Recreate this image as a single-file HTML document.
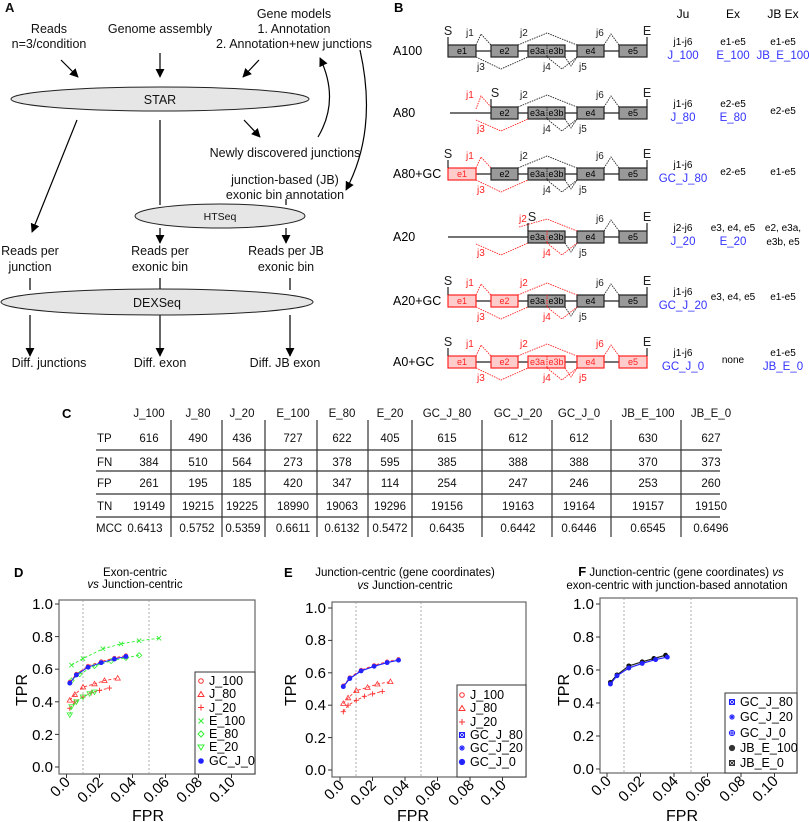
<!DOCTYPE html>
<html><head><meta charset="utf-8"><style>
html,body{margin:0;padding:0;background:#fff}
svg{display:block;font-family:"Liberation Sans",Arial,sans-serif}
</style></head><body>
<svg width="809" height="822" viewBox="0 0 809 822" xmlns="http://www.w3.org/2000/svg">
<defs>
<marker id="ah" viewBox="0 0 10 10" refX="9" refY="5" markerWidth="9" markerHeight="9" markerUnits="userSpaceOnUse" orient="auto"><path d="M0,0L10,5L0,10z" fill="#000"/></marker>
<marker id="mCirc" viewBox="-4 -4 8 8" markerWidth="6" markerHeight="6" markerUnits="userSpaceOnUse"><circle r="2.3" fill="none" stroke="#f33" stroke-width="1"/></marker>
<marker id="mTri" viewBox="-4 -4 8 8" markerWidth="7" markerHeight="7" markerUnits="userSpaceOnUse"><path d="M0,-3L3,2.2L-3,2.2z" fill="none" stroke="#f33" stroke-width="0.9"/></marker>
<marker id="mPlus" viewBox="-4 -4 8 8" markerWidth="7" markerHeight="7" markerUnits="userSpaceOnUse"><path d="M-3,0H3M0,-3V3" stroke="#f33" stroke-width="1"/></marker>
<marker id="mX" viewBox="-4 -4 8 8" markerWidth="7" markerHeight="7" markerUnits="userSpaceOnUse"><path d="M-2.5,-2.5L2.5,2.5M-2.5,2.5L2.5,-2.5" stroke="#3e3" stroke-width="1"/></marker>
<marker id="mDia" viewBox="-4 -4 8 8" markerWidth="7" markerHeight="7" markerUnits="userSpaceOnUse"><path d="M0,-3L3,0L0,3L-3,0z" fill="none" stroke="#3e3" stroke-width="0.9"/></marker>
<marker id="mDn" viewBox="-4 -4 8 8" markerWidth="7" markerHeight="7" markerUnits="userSpaceOnUse"><path d="M0,3L3,-2.2L-3,-2.2z" fill="none" stroke="#3e3" stroke-width="0.9"/></marker>
<marker id="mBlue" viewBox="-4 -4 8 8" markerWidth="7" markerHeight="7" markerUnits="userSpaceOnUse"><circle r="2.8" fill="#22f"/></marker>
<marker id="mBlk" viewBox="-4 -4 8 8" markerWidth="7" markerHeight="7" markerUnits="userSpaceOnUse"><circle r="2.8" fill="#111"/></marker>
</defs>

<!-- ============ PANEL A ============ -->
<g font-size="12.5" text-anchor="middle" fill="#111">
<text x="5" y="12" font-weight="bold" font-size="13" text-anchor="start">A</text>
<text x="49" y="33">Reads</text><text x="49" y="48">n=3/condition</text>
<text x="160" y="33">Genome assembly</text>
<text x="294" y="18">Gene models</text><text x="294" y="33">1. Annotation</text><text x="294" y="48">2. Annotation+new junctions</text>
</g>
<g stroke="#000" stroke-width="1.2" fill="none">
<line x1="61" y1="60" x2="78" y2="77" marker-end="url(#ah)"/>
<line x1="160" y1="53" x2="160" y2="77" marker-end="url(#ah)"/>
<line x1="259" y1="60" x2="243" y2="77" marker-end="url(#ah)"/>
<line x1="77" y1="120" x2="32" y2="232" marker-end="url(#ah)"/>
<line x1="160" y1="120" x2="160" y2="205"/>
<line x1="244" y1="120" x2="260" y2="137" marker-end="url(#ah)"/>
<path d="M318,137 Q340,100 320,58" marker-end="url(#ah)"/>
<path d="M360,50 Q378,130 346,190" marker-end="url(#ah)"/>
<line x1="286" y1="199" x2="286" y2="205"/>
<line x1="160" y1="228" x2="160" y2="243" marker-end="url(#ah)"/>
<line x1="286" y1="228" x2="286" y2="243" marker-end="url(#ah)"/>
<line x1="30" y1="278" x2="30" y2="290"/><line x1="160" y1="278" x2="160" y2="290"/><line x1="290" y1="278" x2="290" y2="290"/>
<line x1="30" y1="315" x2="30" y2="356" marker-end="url(#ah)"/>
<line x1="160" y1="315" x2="160" y2="356" marker-end="url(#ah)"/>
<line x1="290" y1="315" x2="290" y2="356" marker-end="url(#ah)"/>
</g>
<g stroke="#222" stroke-width="1" fill="#e6e6e6">
<ellipse cx="160" cy="99" rx="149" ry="12"/>
<ellipse cx="220" cy="216" rx="85" ry="12"/>
<ellipse cx="157" cy="302" rx="156" ry="13"/>
</g>
<g font-size="12.5" text-anchor="middle" fill="#111">
<text x="160" y="104">STAR</text>
<text x="220" y="220" font-size="10.5">HTSeq</text>
<text x="157" y="307">DEXSeq</text>
<text x="285" y="157">Newly discovered junctions</text>
<text x="285" y="184">junction-based (JB)</text><text x="285" y="199">exonic bin annotation</text>
<text x="30" y="255">Reads per</text><text x="30" y="271">junction</text>
<text x="160" y="255">Reads per</text><text x="160" y="271">exonic bin</text>
<text x="286" y="255">Reads per JB</text><text x="286" y="271">exonic bin</text>
<text x="49" y="367">Diff. junctions</text><text x="160" y="367">Diff. exon</text><text x="285" y="367">Diff. JB exon</text>
</g>

<!-- ============ PANEL B ============ -->
<text x="394" y="12" font-weight="bold" font-size="13">B</text>
<g font-size="12" text-anchor="middle"><text x="683" y="18">Ju</text><text x="733" y="18">Ex</text><text x="783" y="18">JB Ex</text></g>

<g id="genes" font-size="10">
<g transform="translate(0,51)">
<text x="393" y="4" font-size="12.5">A100</text>
<line x1="448" y1="0" x2="647" y2="0" stroke="#222" stroke-width="1.3"/>
<g stroke="#222" fill="#999" stroke-width="1.2"><rect x="448" y="-6" width="28" height="12"/><rect x="491" y="-6" width="27" height="12"/><rect x="528" y="-6" width="37" height="12"/><rect x="577" y="-6" width="27" height="12"/><rect x="619" y="-6" width="28" height="12"/></g>
<line x1="547" y1="-6" x2="547" y2="6" stroke="#222" stroke-dasharray="1.5,1"/>
<g stroke="#222" fill="none" stroke-width="0.9" stroke-dasharray="1.5,1">
<path d="M476,-6L481,-17L491,-6"/><path d="M518,-6L547,-18L577,-6"/><path d="M604,-6L611,-17L619,-6"/>
<path d="M476,6L501,18L528,6"/><path d="M547,6L562,18L577,6"/><path d="M565,6L571,15L577,6"/></g>
<g stroke="#222" stroke-width="1.2"><line x1="448" y1="-14" x2="448" y2="-6"/><line x1="647" y1="-14" x2="647" y2="-6"/></g>
<g fill="#222"><text x="448" y="-16" font-size="12.5" text-anchor="middle">S</text><text x="647" y="-16" font-size="12.5" text-anchor="middle">E</text>
<text x="466" y="-15">j1</text><text x="520" y="-15">j2</text><text x="596" y="-15">j6</text><text x="477" y="19">j3</text><text x="543" y="19">j4</text><text x="579" y="19">j5</text></g>
<g text-anchor="middle" font-size="9"><text x="462" y="3">e1</text><text x="504.5" y="3">e2</text><text x="537.5" y="3">e3a</text><text x="556" y="3">e3b</text><text x="590.5" y="3">e4</text><text x="633" y="3">e5</text></g>
<g text-anchor="middle" font-size="10"><text x="683" y="-6">j1-j6</text><text x="733" y="-6">e1-e5</text><text x="783" y="-6">e1-e5</text></g>
<g text-anchor="middle" font-size="11.5" fill="#33f"><text x="683" y="8">J_100</text><text x="733" y="8">E_100</text><text x="783" y="8">JB_E_100</text></g>
</g>
<g transform="translate(0,113)">
<text x="393" y="4" font-size="12.5">A80</text>
<line x1="450" y1="0" x2="647" y2="0" stroke="#222" stroke-width="1.3"/>
<g stroke="#222" fill="#999" stroke-width="1.2"><rect x="491" y="-6" width="27" height="12"/><rect x="528" y="-6" width="37" height="12"/><rect x="577" y="-6" width="27" height="12"/><rect x="619" y="-6" width="28" height="12"/></g>
<line x1="547" y1="-6" x2="547" y2="6" stroke="#222" stroke-dasharray="1.5,1"/>
<g stroke="#222" fill="none" stroke-width="0.9" stroke-dasharray="1.5,1">
<path d="M518,-6L547,-18L577,-6"/><path d="M604,-6L611,-17L619,-6"/><path d="M547,6L562,18L577,6"/><path d="M565,6L571,15L577,6"/></g>
<g stroke="#f22" fill="none" stroke-width="0.9" stroke-dasharray="1.5,1"><path d="M476,-4L481,-17L491,-6"/><path d="M476,7L501,18L528,6"/></g>
<g stroke="#222" stroke-width="1.2"><line x1="491" y1="-14" x2="491" y2="-6"/><line x1="647" y1="-14" x2="647" y2="-6"/></g>
<g fill="#222"><text x="495" y="-16" font-size="12.5" text-anchor="middle">S</text><text x="647" y="-16" font-size="12.5" text-anchor="middle">E</text>
<text x="520" y="-15">j2</text><text x="596" y="-15">j6</text><text x="543" y="19">j4</text><text x="579" y="19">j5</text></g>
<g fill="#f22"><text x="466" y="-15">j1</text><text x="477" y="19">j3</text></g>
<g text-anchor="middle" font-size="9"><text x="504.5" y="3">e2</text><text x="537.5" y="3">e3a</text><text x="556" y="3">e3b</text><text x="590.5" y="3">e4</text><text x="633" y="3">e5</text></g>
<g text-anchor="middle" font-size="10"><text x="683" y="-6">j1-j6</text><text x="733" y="-6">e2-e5</text><text x="783" y="1">e2-e5</text></g>
<g text-anchor="middle" font-size="11.5" fill="#33f"><text x="683" y="8">J_80</text><text x="733" y="8">E_80</text></g>
</g>
<g transform="translate(0,174)">
<text x="393" y="4" font-size="12.5">A80+GC</text>
<line x1="448" y1="0" x2="647" y2="0" stroke="#222" stroke-width="1.3"/>
<rect x="448" y="-6" width="28" height="12" stroke="#f22" fill="#fcc" stroke-width="1.2"/>
<g stroke="#222" fill="#999" stroke-width="1.2"><rect x="491" y="-6" width="27" height="12"/><rect x="528" y="-6" width="37" height="12"/><rect x="577" y="-6" width="27" height="12"/><rect x="619" y="-6" width="28" height="12"/></g>
<line x1="547" y1="-6" x2="547" y2="6" stroke="#222" stroke-dasharray="1.5,1"/>
<g stroke="#222" fill="none" stroke-width="0.9" stroke-dasharray="1.5,1">
<path d="M518,-6L547,-18L577,-6"/><path d="M604,-6L611,-17L619,-6"/><path d="M547,6L562,18L577,6"/><path d="M565,6L571,15L577,6"/></g>
<g stroke="#f22" fill="none" stroke-width="0.9" stroke-dasharray="1.5,1"><path d="M476,-6L481,-17L491,-6"/><path d="M476,6L501,18L528,6"/></g>
<g stroke="#222" stroke-width="1.2"><line x1="448" y1="-14" x2="448" y2="-6"/><line x1="647" y1="-14" x2="647" y2="-6"/></g>
<g fill="#222"><text x="448" y="-16" font-size="12.5" text-anchor="middle">S</text><text x="647" y="-16" font-size="12.5" text-anchor="middle">E</text>
<text x="520" y="-15">j2</text><text x="596" y="-15">j6</text><text x="543" y="19">j4</text><text x="579" y="19">j5</text></g>
<g fill="#f22"><text x="466" y="-15">j1</text><text x="477" y="19">j3</text><text x="462" y="3" font-size="9" text-anchor="middle">e1</text></g>
<g text-anchor="middle" font-size="9"><text x="504.5" y="3">e2</text><text x="537.5" y="3">e3a</text><text x="556" y="3">e3b</text><text x="590.5" y="3">e4</text><text x="633" y="3">e5</text></g>
<g text-anchor="middle" font-size="10"><text x="683" y="-6">j1-j6</text><text x="733" y="1">e2-e5</text><text x="783" y="1">e1-e5</text></g>
<g text-anchor="middle" font-size="11.5" fill="#33f"><text x="683" y="8">GC_J_80</text></g>
</g>
<g transform="translate(0,237)">
<text x="393" y="4" font-size="12.5">A20</text>
<line x1="448" y1="0" x2="647" y2="0" stroke="#222" stroke-width="1.3"/>
<g stroke="#222" fill="#999" stroke-width="1.2"><rect x="528" y="-6" width="37" height="12"/><rect x="577" y="-6" width="27" height="12"/><rect x="619" y="-6" width="28" height="12"/></g>
<line x1="547" y1="-6" x2="547" y2="6" stroke="#f22" stroke-dasharray="1.5,1"/>
<g stroke="#222" fill="none" stroke-width="0.9" stroke-dasharray="1.5,1"><path d="M604,-6L611,-17L619,-6"/><path d="M565,6L571,15L577,6"/></g>
<g stroke="#f22" fill="none" stroke-width="0.9" stroke-dasharray="1.5,1"><path d="M519,-10L547,-18L577,-6"/><path d="M476,7L501,18L528,6"/><path d="M547,6L562,18L577,6"/></g>
<g stroke="#222" stroke-width="1.2"><line x1="528" y1="-14" x2="528" y2="-6"/><line x1="647" y1="-14" x2="647" y2="-6"/></g>
<g fill="#222"><text x="532" y="-16" font-size="12.5" text-anchor="middle">S</text><text x="647" y="-16" font-size="12.5" text-anchor="middle">E</text>
<text x="596" y="-15">j6</text><text x="579" y="19">j5</text></g>
<g fill="#f22"><text x="519" y="-15">j2</text><text x="477" y="19">j3</text><text x="543" y="19">j4</text></g>
<g text-anchor="middle" font-size="9"><text x="537.5" y="3">e3a</text><text x="556" y="3">e3b</text><text x="590.5" y="3">e4</text><text x="633" y="3">e5</text></g>
<g text-anchor="middle" font-size="10"><text x="683" y="-6">j2-j6</text><text x="733" y="-6">e3, e4, e5</text><text x="783" y="-6">e2, e3a,</text><text x="783" y="8">e3b, e5</text></g>
<g text-anchor="middle" font-size="11.5" fill="#33f"><text x="683" y="8">J_20</text><text x="733" y="8">E_20</text></g>
</g>
<g transform="translate(0,301)">
<text x="393" y="4" font-size="12.5">A20+GC</text>
<line x1="448" y1="0" x2="647" y2="0" stroke="#222" stroke-width="1.3"/>
<g stroke="#f22" fill="#fcc" stroke-width="1.2"><rect x="448" y="-6" width="28" height="12"/><rect x="491" y="-6" width="27" height="12"/></g>
<g stroke="#222" fill="#999" stroke-width="1.2"><rect x="528" y="-6" width="37" height="12"/><rect x="577" y="-6" width="27" height="12"/><rect x="619" y="-6" width="28" height="12"/></g>
<line x1="547" y1="-6" x2="547" y2="6" stroke="#f22" stroke-dasharray="1.5,1"/>
<g stroke="#222" fill="none" stroke-width="0.9" stroke-dasharray="1.5,1"><path d="M604,-6L611,-17L619,-6"/><path d="M565,6L571,15L577,6"/></g>
<g stroke="#f22" fill="none" stroke-width="0.9" stroke-dasharray="1.5,1"><path d="M476,-6L481,-17L491,-6"/><path d="M518,-6L547,-18L577,-6"/><path d="M476,6L501,18L528,6"/><path d="M547,6L562,18L577,6"/></g>
<g stroke="#222" stroke-width="1.2"><line x1="448" y1="-14" x2="448" y2="-6"/><line x1="647" y1="-14" x2="647" y2="-6"/></g>
<g fill="#222"><text x="448" y="-16" font-size="12.5" text-anchor="middle">S</text><text x="647" y="-16" font-size="12.5" text-anchor="middle">E</text>
<text x="596" y="-15">j6</text><text x="579" y="19">j5</text></g>
<g fill="#f22"><text x="466" y="-15">j1</text><text x="520" y="-15">j2</text><text x="477" y="19">j3</text><text x="543" y="19">j4</text>
<text x="462" y="3" font-size="9" text-anchor="middle">e1</text><text x="504.5" y="3" font-size="9" text-anchor="middle">e2</text></g>
<g text-anchor="middle" font-size="9"><text x="537.5" y="3">e3a</text><text x="556" y="3">e3b</text><text x="590.5" y="3">e4</text><text x="633" y="3">e5</text></g>
<g text-anchor="middle" font-size="10"><text x="683" y="-6">j1-j6</text><text x="733" y="-1">e3, e4, e5</text><text x="783" y="-1">e1-e5</text></g>
<g text-anchor="middle" font-size="11.5" fill="#33f"><text x="683" y="8">GC_J_20</text></g>
</g>
<g transform="translate(0,362)">
<text x="393" y="4" font-size="12.5">A0+GC</text>
<line x1="448" y1="0" x2="647" y2="0" stroke="#222" stroke-width="1.3"/>
<g stroke="#f22" fill="#fcc" stroke-width="1.2"><rect x="448" y="-6" width="28" height="12"/><rect x="491" y="-6" width="27" height="12"/><rect x="528" y="-6" width="37" height="12"/><rect x="577" y="-6" width="27" height="12"/><rect x="619" y="-6" width="28" height="12"/></g>
<line x1="547" y1="-6" x2="547" y2="6" stroke="#f22" stroke-dasharray="1.5,1"/>
<g stroke="#f22" fill="none" stroke-width="0.9" stroke-dasharray="1.5,1">
<path d="M476,-6L481,-17L491,-6"/><path d="M518,-6L547,-18L577,-6"/><path d="M604,-6L611,-17L619,-6"/>
<path d="M476,6L501,18L528,6"/><path d="M547,6L562,18L577,6"/><path d="M565,6L571,15L577,6"/></g>
<g stroke="#222" stroke-width="1.2"><line x1="448" y1="-14" x2="448" y2="-6"/><line x1="647" y1="-14" x2="647" y2="-6"/></g>
<g fill="#222"><text x="448" y="-16" font-size="12.5" text-anchor="middle">S</text><text x="647" y="-16" font-size="12.5" text-anchor="middle">E</text></g>
<g fill="#f22"><text x="466" y="-15">j1</text><text x="520" y="-15">j2</text><text x="596" y="-15">j6</text><text x="477" y="19">j3</text><text x="543" y="19">j4</text><text x="579" y="19">j5</text>
<g text-anchor="middle" font-size="9"><text x="462" y="3">e1</text><text x="504.5" y="3">e2</text><text x="537.5" y="3">e3a</text><text x="556" y="3">e3b</text><text x="590.5" y="3">e4</text><text x="633" y="3">e5</text></g></g>
<g text-anchor="middle" font-size="10"><text x="683" y="-6">j1-j6</text><text x="733" y="1">none</text><text x="783" y="-6">e1-e5</text></g>
<g text-anchor="middle" font-size="11.5" fill="#33f"><text x="683" y="8">GC_J_0</text><text x="783" y="8">JB_E_0</text></g>
</g>
</g>

<!-- ============ PANEL C ============ -->
<text x="62" y="418" font-weight="bold" font-size="13">C</text>
<g font-size="11.5" text-anchor="middle" fill="#111">
<text x="149" y="417">J_100</text><text x="198" y="417">J_80</text><text x="242" y="417">J_20</text><text x="293" y="417">E_100</text><text x="342" y="417">E_80</text><text x="390" y="417">E_20</text><text x="447" y="417">GC_J_80</text><text x="518" y="417">GC_J_20</text><text x="579" y="417">GC_J_0</text><text x="648" y="417">JB_E_100</text><text x="711" y="417">JB_E_0</text>
<g text-anchor="start"><text x="97" y="442">TP</text><text x="97" y="466">FN</text><text x="97" y="487">FP</text><text x="97" y="510">TN</text><text x="96" y="532">MCC</text></g>
<g><text x="149" y="442">616</text><text x="198" y="442">490</text><text x="242" y="442">436</text><text x="293" y="442">727</text><text x="342" y="442">622</text><text x="390" y="442">405</text><text x="447" y="442">615</text><text x="518" y="442">612</text><text x="579" y="442">612</text><text x="648" y="442">630</text><text x="711" y="442">627</text></g>
<g><text x="149" y="466">384</text><text x="198" y="466">510</text><text x="242" y="466">564</text><text x="293" y="466">273</text><text x="342" y="466">378</text><text x="390" y="466">595</text><text x="447" y="466">385</text><text x="518" y="466">388</text><text x="579" y="466">388</text><text x="648" y="466">370</text><text x="711" y="466">373</text></g>
<g><text x="149" y="487">261</text><text x="198" y="487">195</text><text x="242" y="487">185</text><text x="293" y="487">420</text><text x="342" y="487">347</text><text x="390" y="487">114</text><text x="447" y="487">254</text><text x="518" y="487">247</text><text x="579" y="487">246</text><text x="648" y="487">253</text><text x="711" y="487">260</text></g>
<g><text x="149" y="510">19149</text><text x="198" y="510">19215</text><text x="242" y="510">19225</text><text x="293" y="510">18990</text><text x="342" y="510">19063</text><text x="390" y="510">19296</text><text x="447" y="510">19156</text><text x="518" y="510">19163</text><text x="579" y="510">19164</text><text x="648" y="510">19157</text><text x="711" y="510">19150</text></g>
<g><text x="145" y="532">0.6413</text><text x="197" y="532">0.5752</text><text x="243" y="532">0.5359</text><text x="293" y="532">0.6611</text><text x="342" y="532">0.6132</text><text x="390" y="532">0.5472</text><text x="447" y="532">0.6435</text><text x="518" y="532">0.6442</text><text x="579" y="532">0.6446</text><text x="648" y="532">0.6545</text><text x="711" y="532">0.6496</text></g>
</g>
<g stroke="#333" stroke-width="1.2">
<line x1="96" y1="450" x2="722" y2="450"/><line x1="96" y1="471" x2="720" y2="471"/><line x1="96" y1="494" x2="720" y2="494"/><line x1="96" y1="517" x2="720" y2="517"/>
<line x1="171" y1="420" x2="171" y2="537"/><line x1="222" y1="420" x2="222" y2="537"/><line x1="265" y1="420" x2="265" y2="537"/><line x1="317" y1="420" x2="317" y2="537"/><line x1="368" y1="420" x2="368" y2="537"/><line x1="412" y1="420" x2="412" y2="537"/><line x1="482" y1="420" x2="482" y2="537"/><line x1="552" y1="420" x2="552" y2="537"/><line x1="611" y1="420" x2="611" y2="537"/><line x1="681" y1="420" x2="681" y2="537"/>
</g>

<!-- ============ PANEL D ============ -->
<text x="14" y="577" font-weight="bold" font-size="13">D</text>
<g font-size="11.5" text-anchor="middle"><text x="135" y="576">Exon-centric</text><text x="135" y="588"><tspan font-style="italic">vs</tspan> Junction-centric</text></g>
<rect x="59" y="600" width="196" height="174" fill="none" stroke="#666" stroke-width="1.2"/>
<g stroke="#999" stroke-width="0.8" stroke-dasharray="2,2"><line x1="83" y1="600" x2="83" y2="774"/><line x1="149" y1="600" x2="149" y2="774"/></g>
<g stroke="#333" stroke-width="1"><line x1="55" y1="604" x2="59" y2="604"/><line x1="55" y1="636.6" x2="59" y2="636.6"/><line x1="55" y1="669.2" x2="59" y2="669.2"/><line x1="55" y1="701.8" x2="59" y2="701.8"/><line x1="55" y1="734.4" x2="59" y2="734.4"/><line x1="55" y1="767" x2="59" y2="767"/>
<line x1="66.5" y1="774" x2="66.5" y2="778"/><line x1="99.5" y1="774" x2="99.5" y2="778"/><line x1="132.5" y1="774" x2="132.5" y2="778"/><line x1="165.5" y1="774" x2="165.5" y2="778"/><line x1="198.5" y1="774" x2="198.5" y2="778"/><line x1="231.5" y1="774" x2="231.5" y2="778"/></g>
<g font-size="15" text-anchor="end"><text x="53" y="609">1.0</text><text x="53" y="642">0.8</text><text x="53" y="674">0.6</text><text x="53" y="707">0.4</text><text x="53" y="740">0.2</text><text x="53" y="772">0.0</text>
<text transform="translate(71,783) rotate(-45)">0.0</text><text transform="translate(104,783) rotate(-45)">0.02</text><text transform="translate(137,783) rotate(-45)">0.04</text><text transform="translate(170,783) rotate(-45)">0.06</text><text transform="translate(203,783) rotate(-45)">0.08</text><text transform="translate(236,783) rotate(-45)">0.10</text></g>
<text transform="translate(27,690) rotate(-90)" font-size="16" text-anchor="middle">TPR</text>
<text x="148" y="821" font-size="16" text-anchor="middle">FPR</text>
<g fill="none" stroke-width="0.9" stroke-dasharray="3,2">
<polyline stroke="#3e3" points="71.5,665.1 83,658.6 102.8,648.8 121,643.9 139.1,640.7 158.9,638.2" marker-start="url(#mX)" marker-mid="url(#mX)" marker-end="url(#mX)"/>
<polyline stroke="#3e3" points="71.5,680.6 79.7,674.1 94.5,665.9 111.1,661 125.9,657.8 139.1,655.3" marker-start="url(#mDia)" marker-mid="url(#mDia)" marker-end="url(#mDia)"/>
<polyline stroke="#f33" points="69.8,700.2 74.8,694.5 83,687.1 94.5,683.9 104.5,680.6 117.7,678.2" marker-start="url(#mTri)" marker-mid="url(#mTri)" marker-end="url(#mTri)"/>
<polyline stroke="#f33" points="69.8,708.3 74.8,701.8 83,696.9 91.3,692.8 99.5,690.4 109.4,688" marker-start="url(#mPlus)" marker-mid="url(#mPlus)" marker-end="url(#mPlus)"/>
<polyline stroke="#3e3" points="69.8,714.8 71.5,706.7 76.4,701.8 83,696.9 89.6,693.7 94.5,692" marker-start="url(#mDn)" marker-mid="url(#mDn)" marker-end="url(#mDn)"/>
<polyline stroke="#f33" points="69.8,682 76.4,674 88,666 101.2,661.5 114.4,658 125.9,655.5" marker-start="url(#mCirc)" marker-mid="url(#mCirc)" marker-end="url(#mCirc)"/>
</g>
<polyline fill="none" stroke="#22f" stroke-width="1" points="69.8,683.1 76.4,674.9 88,667.2 101.2,662.7 114.4,659 125.9,656.5" marker-start="url(#mBlue)" marker-mid="url(#mBlue)" marker-end="url(#mBlue)"/>
<rect x="195" y="672" width="60" height="102" fill="#fff" stroke="#333" stroke-width="1"/>
<g font-size="12.5"><text x="209" y="685">J_100</text><text x="209" y="698">J_80</text><text x="209" y="712">J_20</text><text x="209" y="725">E_100</text><text x="209" y="738">E_80</text><text x="209" y="751">E_20</text><text x="209" y="765">GC_J_0</text></g>
<g fill="none" stroke-width="1"><circle cx="201" cy="681" r="2.3" stroke="#f33"/><path d="M201,691.5L204,696.5L198,696.5z" stroke="#f33"/><path d="M198,707.5H204M201,704.5V710.5" stroke="#f33"/><path d="M198.5,718.5L203.5,723.5M198.5,723.5L203.5,718.5" stroke="#3e3"/><path d="M201,731L204,734L201,737L198,734z" stroke="#3e3"/><path d="M201,750L204,745L198,745z" stroke="#3e3"/><circle cx="201" cy="761" r="2.8" fill="#22f" stroke="none"/></g>

<!-- ============ PANEL E ============ -->
<text x="284" y="577" font-weight="bold" font-size="13">E</text>
<g font-size="11.5" text-anchor="middle"><text x="405" y="576">Junction-centric (gene coordinates)</text><text x="405" y="589"><tspan font-style="italic">vs</tspan> Junction-centric</text></g>
<rect x="332" y="602" width="194" height="175" fill="none" stroke="#666" stroke-width="1.2"/>
<g stroke="#999" stroke-width="0.8" stroke-dasharray="2,2"><line x1="356" y1="602" x2="356" y2="777"/><line x1="421" y1="602" x2="421" y2="777"/></g>
<g stroke="#333" stroke-width="1"><line x1="328" y1="608" x2="332" y2="608"/><line x1="328" y1="640.4" x2="332" y2="640.4"/><line x1="328" y1="672.8" x2="332" y2="672.8"/><line x1="328" y1="705.2" x2="332" y2="705.2"/><line x1="328" y1="737.6" x2="332" y2="737.6"/><line x1="328" y1="770" x2="332" y2="770"/>
<line x1="340" y1="777" x2="340" y2="781"/><line x1="372.5" y1="777" x2="372.5" y2="781"/><line x1="405" y1="777" x2="405" y2="781"/><line x1="437.5" y1="777" x2="437.5" y2="781"/><line x1="470" y1="777" x2="470" y2="781"/><line x1="502.5" y1="777" x2="502.5" y2="781"/></g>
<g font-size="15" text-anchor="end"><text x="326" y="613">1.0</text><text x="326" y="645">0.8</text><text x="326" y="678">0.6</text><text x="326" y="710">0.4</text><text x="326" y="743">0.2</text><text x="326" y="775">0.0</text>
<text transform="translate(345,786) rotate(-45)">0.0</text><text transform="translate(377,786) rotate(-45)">0.02</text><text transform="translate(410,786) rotate(-45)">0.04</text><text transform="translate(442,786) rotate(-45)">0.06</text><text transform="translate(475,786) rotate(-45)">0.08</text><text transform="translate(507,786) rotate(-45)">0.10</text></g>
<text transform="translate(296,690) rotate(-90)" font-size="16" text-anchor="middle">TPR</text>
<text x="413" y="821" font-size="16" text-anchor="middle">FPR</text>
<g fill="none" stroke-width="0.9" stroke-dasharray="3,2">
<polyline stroke="#f33" points="343.3,703.6 348.1,697.9 356.3,690.6 367.6,687.4 377.4,684.1 390.4,681.7" marker-start="url(#mTri)" marker-mid="url(#mTri)" marker-end="url(#mTri)"/>
<polyline stroke="#f33" points="343.3,711.7 348.1,705.2 356.3,700.3 364.4,696.3 372.5,693.9 382.3,691.4" marker-start="url(#mPlus)" marker-mid="url(#mPlus)" marker-end="url(#mPlus)"/>
<polyline stroke="#f33" points="343.3,685.6 349.8,677.5 361.1,670 374.1,665.3 387.1,661.6 398.5,659.2" marker-start="url(#mCirc)" marker-mid="url(#mCirc)" marker-end="url(#mCirc)"/>
</g>
<polyline fill="none" stroke="#22f" stroke-width="1.2" points="343.3,686.6 349.8,678.5 361.1,670.9 374.1,666.3 387.1,662.6 398.5,660.2" marker-start="url(#mBlue)" marker-mid="url(#mBlue)" marker-end="url(#mBlue)"/>
<rect x="457" y="685" width="69" height="92" fill="#fff" stroke="#333" stroke-width="1"/>
<g font-size="12.5"><text x="470" y="699">J_100</text><text x="470" y="712">J_80</text><text x="470" y="726">J_20</text><text x="470" y="739">GC_J_80</text><text x="470" y="752">GC_J_20</text><text x="470" y="766">GC_J_0</text></g>
<g fill="none" stroke-width="1"><circle cx="462" cy="695" r="2.3" stroke="#f33"/><path d="M462,705.5L465,710.5L459,710.5z" stroke="#f33"/><path d="M459,722H465M462,719V725" stroke="#f33"/>
<rect x="459.5" y="732.5" width="5" height="5" stroke="#22f"/><path d="M459.5,732.5l5,5m0,-5l-5,5" stroke="#22f"/>
<path d="M459,748H465M462,745V751M460,746l4,4m0,-4l-4,4" stroke="#22f"/><circle cx="462" cy="762" r="2.6" stroke="#22f" fill="#22f"/></g>

<!-- ============ PANEL F ============ -->
<g font-size="11.5" text-anchor="middle"><text x="681" y="576"><tspan font-weight="bold" font-size="13">F</tspan> Junction-centric (gene coordinates) <tspan font-style="italic">vs</tspan></text><text x="677" y="589">exon-centric with junction-based annotation</text></g>
<rect x="600" y="598" width="197" height="175" fill="none" stroke="#666" stroke-width="1.2"/>
<g stroke="#999" stroke-width="0.8" stroke-dasharray="2,2"><line x1="624" y1="598" x2="624" y2="773"/><line x1="691" y1="598" x2="691" y2="773"/></g>
<g stroke="#333" stroke-width="1"><line x1="596" y1="604" x2="600" y2="604"/><line x1="596" y1="637" x2="600" y2="637"/><line x1="596" y1="670" x2="600" y2="670"/><line x1="596" y1="703" x2="600" y2="703"/><line x1="596" y1="736" x2="600" y2="736"/><line x1="596" y1="769" x2="600" y2="769"/>
<line x1="607" y1="773" x2="607" y2="777"/><line x1="640.5" y1="773" x2="640.5" y2="777"/><line x1="674" y1="773" x2="674" y2="777"/><line x1="707.5" y1="773" x2="707.5" y2="777"/><line x1="741" y1="773" x2="741" y2="777"/><line x1="774.5" y1="773" x2="774.5" y2="777"/></g>
<g font-size="15" text-anchor="end"><text x="594" y="609">1.0</text><text x="594" y="642">0.8</text><text x="594" y="675">0.6</text><text x="594" y="708">0.4</text><text x="594" y="741">0.2</text><text x="594" y="774">0.0</text>
<text transform="translate(612,782) rotate(-45)">0.0</text><text transform="translate(645,782) rotate(-45)">0.02</text><text transform="translate(679,782) rotate(-45)">0.04</text><text transform="translate(712,782) rotate(-45)">0.06</text><text transform="translate(746,782) rotate(-45)">0.08</text><text transform="translate(779,782) rotate(-45)">0.10</text></g>
<text transform="translate(569,690) rotate(-90)" font-size="16" text-anchor="middle">TPR</text>
<text x="682" y="821" font-size="16" text-anchor="middle">FPR</text>
<polyline fill="none" stroke="#222" stroke-width="1.2" points="610.4,682.4 617,674.9 628.8,665.9 642.2,661.8 653.9,658.5 665.6,655.2" marker-start="url(#mBlk)" marker-mid="url(#mBlk)" marker-end="url(#mBlk)"/>
<polyline fill="none" stroke="#22f" stroke-width="1.2" points="610.4,684 617,675.8 628.8,668 642.2,663.4 655.6,659.6 667.3,657.1" marker-start="url(#mBlue)" marker-mid="url(#mBlue)" marker-end="url(#mBlue)"/>
<rect x="725" y="693" width="72" height="80" fill="#fff" stroke="#333" stroke-width="1"/>
<g font-size="12.5"><text x="740" y="706">GC_J_80</text><text x="740" y="721">GC_J_20</text><text x="740" y="737">GC_J_0</text><text x="740" y="752">JB_E_100</text><text x="740" y="767">JB_E_0</text></g>
<g fill="none" stroke-width="1"><rect x="729.5" y="699.5" width="5" height="5" stroke="#22f"/><path d="M729.5,699.5l5,5m0,-5l-5,5" stroke="#22f"/>
<path d="M729,717H735M732,714V720M730,715l4,4m0,-4l-4,4" stroke="#22f"/><circle cx="732" cy="733" r="2.6" stroke="#22f"/><path d="M729,733H735M732,730V736" stroke="#22f"/>
<circle cx="732" cy="748" r="2.6" fill="#333" stroke="#333"/><path d="M729.5,760.5h5v5h-5z M729.5,760.5l5,5m0,-5l-5,5" stroke="#333"/></g>
</svg>
</body></html>
